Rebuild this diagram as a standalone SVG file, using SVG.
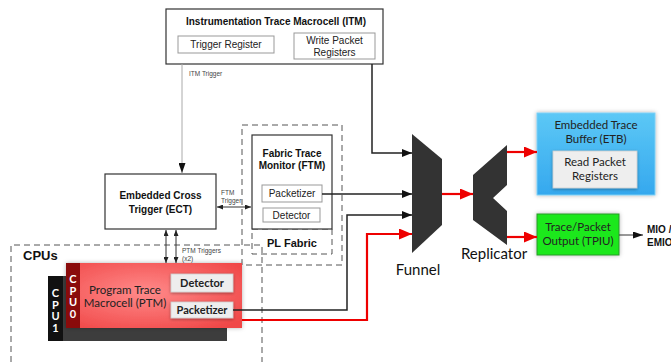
<svg xmlns="http://www.w3.org/2000/svg" width="671" height="362" viewBox="0 0 671 362">
<style>
.box{fill:#fff;stroke:#333;stroke-width:1.2}
.sub{fill:#fff;stroke:#999;stroke-width:1}
.dash{fill:none;stroke:#555;stroke-width:1;stroke-dasharray:6,4}
.tb{font-family:"Liberation Sans",Arial,sans-serif;font-weight:bold;font-size:10px;fill:#111;text-anchor:middle}
.tr{font-family:"Liberation Sans",Arial,sans-serif;font-size:10px;fill:#222;text-anchor:middle}
.ts{font-family:"Liberation Sans",Arial,sans-serif;font-size:6.5px;fill:#444}
.tl{font-family:Lato,"Open Sans",sans-serif;font-size:11.5px;fill:#222;text-anchor:middle}
.tlb{font-family:Lato,"Open Sans",sans-serif;font-size:11px;font-weight:bold;fill:#222;text-anchor:middle}
.big{font-family:Lato,"Open Sans",sans-serif;font-size:15px;fill:#111;text-anchor:middle}
.cpu{font-family:Lato,"Open Sans",sans-serif;font-size:11px;font-weight:bold;fill:#fff;text-anchor:middle}
.blk{fill:none;stroke:#222;stroke-width:1.5}
.red{fill:none;stroke:#ee0000;stroke-width:2.2}
.thin{fill:none;stroke:#333;stroke-width:1}
.gray{fill:none;stroke:#aaa;stroke-width:1}
.chip{fill:#eeeeee;stroke:#ccc;stroke-width:0.8}
</style>
<defs>
<marker id="ab" viewBox="0 0 10 8" refX="10" refY="4" markerWidth="10" markerHeight="8" markerUnits="userSpaceOnUse" orient="auto"><path d="M0,0 L10,4 L0,8 z" fill="#111"/></marker>
<marker id="ar" viewBox="0 0 13 11" refX="13" refY="5.5" markerWidth="13" markerHeight="11" markerUnits="userSpaceOnUse" orient="auto"><path d="M0,0 L13,5.5 L0,11 z" fill="#ee0000"/></marker>
<marker id="as" viewBox="0 0 6 5" refX="6" refY="2.5" markerWidth="6" markerHeight="5" markerUnits="userSpaceOnUse" orient="auto-start-reverse"><path d="M0,0 L6,2.5 L0,5 z" fill="#222"/></marker>
<marker id="am" viewBox="0 0 10 7" refX="10" refY="3.5" markerWidth="10" markerHeight="7" markerUnits="userSpaceOnUse" orient="auto"><path d="M0,0 L10,3.5 L0,7 z" fill="#111"/></marker>
<radialGradient id="gred" cx="0.45" cy="0.45" r="0.7"><stop offset="0" stop-color="#ff8a8a"/><stop offset="1" stop-color="#f04646"/></radialGradient>
<linearGradient id="gblue" x1="0" y1="0" x2="0" y2="1"><stop offset="0" stop-color="#5cc8f6"/><stop offset="1" stop-color="#35a8ee"/></linearGradient>
<filter id="sh" x="-20%" y="-20%" width="140%" height="140%"><feDropShadow dx="0" dy="1" stdDeviation="1.5" flood-color="#000" flood-opacity="0.35"/></filter>
<filter id="glow" x="-20%" y="-20%" width="140%" height="140%"><feDropShadow dx="0" dy="0" stdDeviation="2" flood-color="#000" flood-opacity="0.3"/></filter>
</defs>

<g id="pl-fabric">
<rect class="dash" x="242" y="125" width="100" height="140"/>
<rect class="dash" x="252" y="229" width="80" height="25"/>
<text class="tb" style="font-size:11px" x="292" y="247">PL Fabric</text>
</g>

<g id="cpus-region">
<path class="dash" d="M11,362 L11,245 L262,245 L262,362"/>
<text class="tb" style="font-size:13px;text-anchor:start" x="23" y="259.5">CPUs</text>
</g>

<g id="itm">
<rect class="box" x="166" y="9" width="217" height="55"/>
<text class="tb" x="276" y="25">Instrumentation Trace Macrocell (ITM)</text>
<rect class="sub" x="178" y="36" width="96" height="17"/>
<text class="tr" x="226" y="48">Trigger Register</text>
<rect class="sub" x="294" y="33" width="81" height="26"/>
<text class="tr" x="334.5" y="43.5">Write Packet</text>
<text class="tr" x="334.5" y="55.5">Registers</text>
</g>

<g id="ect">
<rect class="box" x="105" y="174" width="111" height="55"/>
<text class="tb" x="160.5" y="198.5">Embedded Cross</text>
<text class="tb" x="160.5" y="212.5">Trigger (ECT)</text>
</g>

<g id="ftm">
<rect class="box" x="252" y="135" width="80" height="94"/>
<text class="tb" x="292" y="156.5">Fabric Trace</text>
<text class="tb" x="292" y="168.5">Monitor (FTM)</text>
<rect class="sub" x="262" y="185" width="60" height="17"/>
<text class="tr" x="292" y="197">Packetizer</text>
<rect class="sub" x="263" y="208" width="57" height="14"/>
<text class="tr" x="291.5" y="218.5">Detector</text>
</g>

<g id="cpu1">
<rect x="48" y="276" width="179" height="65" fill="#3d3d3d"/>
<rect x="48" y="276" width="15" height="65" fill="#111"/>
<text class="cpu" x="55.5" y="297">C</text>
<text class="cpu" x="55.5" y="308.5">P</text>
<text class="cpu" x="55.5" y="320">U</text>
<text class="cpu" x="55.5" y="331.5">1</text>
</g>

<g id="cpu0-ptm">
<rect x="66" y="263" width="176" height="65" fill="url(#gred)" filter="url(#glow)"/>
<rect x="66" y="263" width="14" height="65" fill="#8a0b0b"/>
<text class="cpu" x="73" y="283">C</text>
<text class="cpu" x="73" y="294.5">P</text>
<text class="cpu" x="73" y="306">U</text>
<text class="cpu" x="73" y="317.5">0</text>
<text class="tl" x="125" y="294">Program Trace</text>
<text class="tl" x="125" y="307">Macrocell (PTM)</text>
<rect class="chip" x="171" y="274" width="62" height="18" filter="url(#sh)"/>
<text class="tlb" x="202" y="287">Detector</text>
<rect class="chip" x="171" y="302" width="62" height="16" filter="url(#sh)"/>
<text class="tlb" x="202" y="314">Packetizer</text>
</g>

<g id="funnel">
<polygon points="412,134 442,159 442,225 412,253" fill="#333"/>
<text class="big" x="418" y="275">Funnel</text>
</g>

<g id="replicator">
<polygon points="473,175 507,145 507,185 493,198 507,211 507,245 473,220" fill="#333"/>
<text class="big" x="494" y="259">Replicator</text>
</g>

<g id="etb">
<rect x="537" y="113" width="118" height="82" fill="url(#gblue)" stroke="#7fd0f5" stroke-width="1" filter="url(#glow)"/>
<text class="tl" x="596" y="129">Embedded Trace</text>
<text class="tl" x="596" y="143">Buffer (ETB)</text>
<rect class="chip" x="553" y="151" width="84" height="37" filter="url(#sh)"/>
<text class="tl" x="595" y="166">Read Packet</text>
<text class="tl" x="595" y="180">Registers</text>
</g>

<g id="tpiu">
<rect x="537" y="214" width="82" height="41" fill="#1fe81f" stroke="#2a9a2a" stroke-width="1" filter="url(#glow)"/>
<text class="tl" x="578" y="231">Trace/Packet</text>
<text class="tl" x="578" y="245">Output (TPIU)</text>
</g>

<g id="mio">
<text class="tb" style="text-anchor:start" x="647" y="232.5">MIO /</text>
<text class="tb" style="text-anchor:start" x="647" y="245.5">EMIO</text>
</g>

<g id="connectors">
<path class="gray" d="M182,64 L182,173" marker-end="url(#am)"/>
<text class="ts" x="189" y="76">ITM Trigger</text>
<path class="thin" d="M217,207 L251,207" marker-start="url(#as)" marker-end="url(#as)"/>
<text class="ts" x="221" y="194.5">FTM</text>
<text class="ts" x="221" y="202.5">Trigger</text>
<path class="thin" d="M166,230 L166,263" marker-start="url(#as)" marker-end="url(#as)"/>
<path class="thin" d="M176,230 L176,263" marker-start="url(#as)" marker-end="url(#as)"/>
<text class="ts" x="182" y="253">PTM Triggers</text>
<text class="ts" x="182" y="261">(x2)</text>
<path class="blk" d="M372,64 L372,153 L412,153" marker-end="url(#ab)"/>
<path class="blk" d="M322,194 L412,194" marker-end="url(#ab)"/>
<path class="blk" d="M233,310 L347,310 L347,215 L412,215" marker-end="url(#ab)"/>
<path class="red" d="M242,320 L367,320 L367,234 L412,234" marker-end="url(#ar)"/>
<path class="red" d="M442,194 L473,194" marker-end="url(#ar)"/>
<path class="red" d="M507,152 L537,152" marker-end="url(#ar)"/>
<path class="red" d="M507,237 L537,237" marker-end="url(#ar)"/>
<path class="thin" d="M619,235 L643,235" marker-end="url(#am)"/>
</g>
</svg>
